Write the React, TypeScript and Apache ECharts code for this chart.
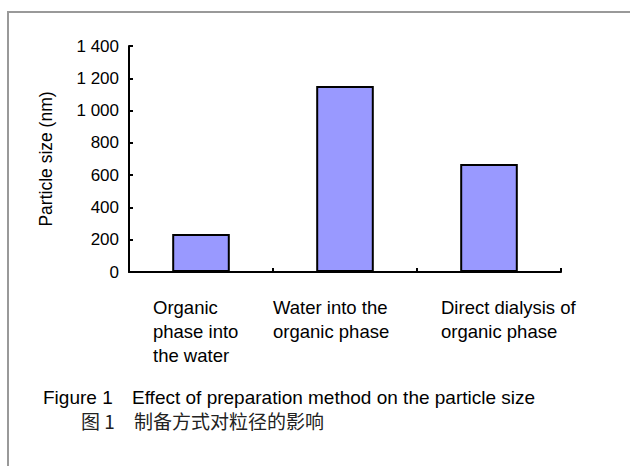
import React, { useEffect, useRef } from "react";
import * as echarts from "echarts";

const categories = [
  "Organic\nphase into\nthe water",
  "Water into the\norganic phase",
  "Direct dialysis of\norganic phase",
];
const particleSize = [236, 1152, 669];
const yTicks = { min: 0, max: 1400, interval: 200 };
const yAxisTitle = "Particle size (nm)";
const captionEnLabel = "Figure 1";
const captionEnText = "Effect of preparation method on the particle size";
const captionZhLabel = "图 1";
const captionZhText = "制备方式对粒径的影响";

const labelOffsets = [-48, -72, -48];

const FONT = "'Liberation Sans', Arial, sans-serif";
const CJK = "'Noto Sans CJK SC', sans-serif";

function fmt(v: number) {
  const s = String(v);
  return s.length > 3 ? s.slice(0, s.length - 3) + " " + s.slice(s.length - 3) : s;
}

export default function App() {
  const ref = useRef<HTMLDivElement>(null);
  useEffect(() => {
    if (!ref.current) return;
    const chart = echarts.init(ref.current, null, { renderer: "svg" });
    chart.setOption({
      animation: false,
      backgroundColor: "#ffffff",
      grid: { left: 129, top: 46, right: 69, bottom: 194, containLabel: false },
      xAxis: {
        type: "category",
        data: categories,
        axisLine: { lineStyle: { color: "#000", width: 2 } },
        axisTick: { show: true, inside: true, length: 4, lineStyle: { color: "#000", width: 2 } },
        axisLabel: { show: false },
        splitLine: { show: false },
      },
      yAxis: {
        type: "value",
        min: yTicks.min,
        max: yTicks.max,
        interval: yTicks.interval,
        name: yAxisTitle,
        nameLocation: "middle",
        nameRotate: 90,
        nameGap: 74,
        nameTextStyle: { fontFamily: FONT, fontSize: 17.5, color: "#000" },
        axisLine: { show: true, lineStyle: { color: "#000", width: 2 } },
        axisTick: { show: true, inside: true, length: 4, lineStyle: { color: "#000", width: 2 } },
        axisLabel: {
          fontFamily: FONT,
          fontSize: 17,
          color: "#000",
          margin: 10,
          formatter: (v: number) => fmt(v),
        },
        splitLine: { show: false },
      },
      series: [
        {
          type: "bar",
          data: particleSize,
          barWidth: "40%",
          itemStyle: { color: "#9999FF", borderColor: "#000", borderWidth: 2 },
        },
      ],
    });

    const graphics: any[] = [
      {
        type: "rect",
        shape: { x: 8, y: 12, width: 700, height: 500 },
        style: { fill: "none", stroke: "#999", lineWidth: 2 },
        z: 0,
      },
    ];
    categories.forEach((c, i) => {
      const px = chart.convertToPixel({ xAxisIndex: 0 }, i) as number;
      graphics.push({
        type: "text",
        x: px + labelOffsets[i],
        y: 295,
        style: {
          text: c,
          fontFamily: FONT,
          fontSize: 18.5,
          lineHeight: 24,
          fill: "#000",
          textAlign: "left",
          textVerticalAlign: "top",
        },
      });
    });
    graphics.push(
      {
        type: "text",
        x: 43,
        y: 388,
        style: { text: captionEnLabel, fontFamily: FONT, fontSize: 19, lineHeight: 19, fill: "#000", textVerticalAlign: "top" },
      },
      {
        type: "text",
        x: 132,
        y: 388,
        style: { text: captionEnText, fontFamily: FONT, fontSize: 19, lineHeight: 19, fill: "#000", textVerticalAlign: "top" },
      },
      {
        type: "text",
        x: 81,
        y: 411,
        style: { text: captionZhLabel, fontFamily: CJK, fontSize: 19, lineHeight: 19, fill: "#222", textVerticalAlign: "top" },
      },
      {
        type: "text",
        x: 134,
        y: 411,
        style: { text: captionZhText, fontFamily: CJK, fontSize: 19, lineHeight: 19, fill: "#222", textVerticalAlign: "top" },
      }
    );
    chart.setOption({ graphic: graphics });
    return () => chart.dispose();
  }, []);
  return (
    <div
      ref={ref}
      style={{ position: "fixed", left: 0, top: 0, width: 630, height: 466 }}
    />
  );
}
